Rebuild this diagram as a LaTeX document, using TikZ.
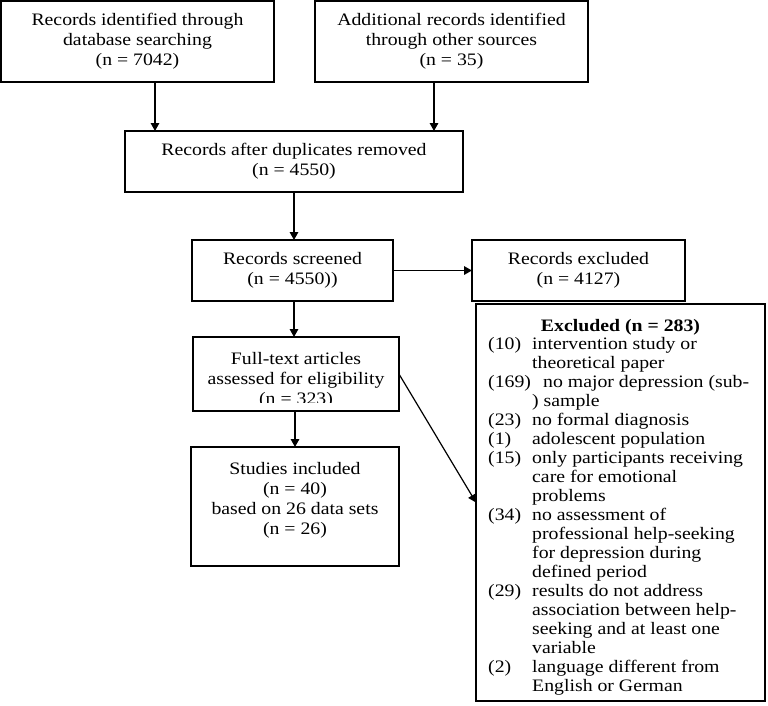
\documentclass[tikz,border=0pt]{standalone}
\usepackage{fontspec}
\setmainfont{Liberation Serif}[FakeStretch=1.13]
\usetikzlibrary{arrows.meta}
\newcommand\exnum[1]{\makebox[44pt][l]{#1}}
\newcommand\exind{\hspace*{44pt}}
\begin{document}
\begin{tikzpicture}[x=1pt,y=-1pt,
  box/.style={draw, line width=1.5pt, inner sep=0pt, outer sep=0pt, align=center, font=\fontsize{17.5}{20}\selectfont},
  txt/.style={align=center, inner sep=0pt, font=\fontsize{17.5}{20}\selectfont},
  listtxt/.style={align=left, inner sep=0pt, font=\fontsize{17.5}{19}\selectfont},
  arr/.style={-{Triangle[length=8pt,width=8.5pt]}, line width=1.6pt}]
\useasboundingbox[fill=white] (0,0) rectangle (768,705);

\node[box, minimum width=273pt, minimum height=81pt] (db) at (137.5,41.5)
  {Records identified through\\database searching\\(n = 7042)};
\node[box, minimum width=273pt, minimum height=81pt] (other) at (451.5,41.5)
  {Additional records identified\\through other sources\\(n = 35)};
\node[box, minimum width=338pt, minimum height=61pt] (dup) at (294,161.5)
  {Records after duplicates removed\\(n = 4550)};
\node[box, minimum width=201pt, minimum height=61pt] (scr) at (292.5,270.5)
  {Records screened\\(n = 4550))};
\node[box, minimum width=213pt, minimum height=61pt] (exc) at (578.5,270.5)
  {Records excluded\\(n = 4127)};
\node[box, minimum width=206pt, minimum height=74pt] (ft) at (296,374) {};
\begin{scope}
  \clip ([yshift=9pt]ft.south west) rectangle (ft.north east);
  \node[txt, anchor=north] (fttext) at ([yshift=-15pt]ft.north)
    {Full-text articles\\assessed for eligibility\\(n = 323)};
\end{scope}
\node[box, minimum width=208pt, minimum height=119pt] (inc) at (295,506.5) {};
\node[txt, anchor=north] (inctext) at ([yshift=-15.5pt]inc.north)
  {Studies included\\(n = 40)\\based on 26 data sets\\(n = 26)};
\node[box, minimum width=289pt, minimum height=397pt] (excl) at (620.5,502.5) {};
\node[txt, anchor=base, font=\fontsize{17.5}{20}\selectfont\bfseries] (excltitle) at (620.5,331)
  {Excluded (n = 283)};
\node[listtxt, anchor=north west] (excllist) at (488,337.5)
  {\exnum{(10)}intervention study or\\
   \exind theoretical paper\\
   \makebox[55pt][l]{(169)}no major depression (sub-\\
   \exind ) sample\\
   \exnum{(23)}no formal diagnosis\\
   \exnum{(1)}adolescent population\\
   \exnum{(15)}only participants receiving\\
   \exind care for emotional\\
   \exind problems\\
   \exnum{(34)}no assessment of\\
   \exind professional help-seeking\\
   \exind for depression during\\
   \exind defined period\\
   \exnum{(29)}results do not address\\
   \exind association between help-\\
   \exind seeking and at least one\\
   \exind variable\\
   \exnum{(2)}language different from\\
   \exind English or German};

\draw[arr] (db.south -| 155,0) -- (dup.north -| 155,0);
\draw[arr] (other.south -| 434,0) -- (dup.north -| 434,0);
\draw[arr] (dup.south) -- (dup.south |- scr.north);
\draw[arr] (scr.east) -- (exc.west);
\draw[arr] (scr.south -| 294,0) -- (ft.north -| 294,0);
\draw[arr] (inc.north |- ft.south) -- (inc.north);
\draw[arr, line width=1.2pt] (ft.east) -- (excl.west);
\end{tikzpicture}
\end{document}
